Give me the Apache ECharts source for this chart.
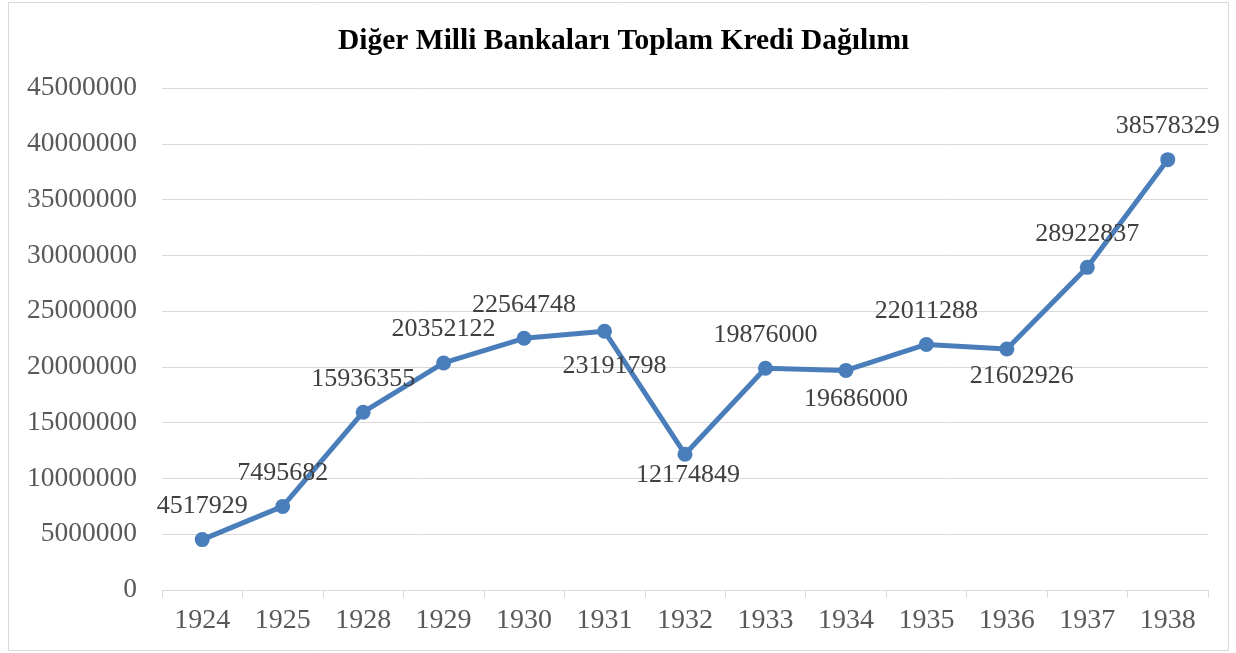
<!DOCTYPE html>
<html>
<head>
<meta charset="utf-8">
<script src="https://cdn.jsdelivr.net/npm/echarts@6/dist/echarts.min.js"></script>
<style>
  html, body { margin: 0; padding: 0; background: #fff; }
  #chart { width: 1236px; height: 653px; }
</style>
</head>
<body>
<div id="chart"></div>
<script>
const years = ['1924', '1925', '1928', '1929', '1930', '1931', '1932', '1933', '1934', '1935', '1936', '1937', '1938'];
const credits = [4517929, 7495682, 15936355, 20352122, 22564748, 23191798, 12174849, 19876000, 19686000, 22011288, 21602926, 28922837, 38578329];

// label placement per point (above unless listed)
const labelBelow = {
  '1931': { distance: 14, offset: [10, 0] },
  '1932': { distance: 0, offset: [3, 0] },
  '1934': { distance: 8, offset: [10, 0] },
  '1936': { distance: 7, offset: [15, 0] }
};

const chart = echarts.init(document.getElementById('chart'));

const seriesData = credits.map((v, i) => {
  const below = labelBelow[years[i]];
  if (!below) return v;
  return { value: v, label: { position: 'bottom', distance: below.distance, offset: below.offset } };
});

chart.setOption({
  animation: false,
  textStyle: { fontFamily: '"Liberation Serif", "Times New Roman", serif' },
  title: {
    text: 'Diğer Milli Bankaları Toplam Kredi Dağılımı',
    left: 338,
    top: 26,
    padding: 0,
    textStyle: { fontSize: 29.5, fontWeight: 'bold', color: '#000', fontFamily: '"Liberation Serif", serif' }
  },
  graphic: [{
    type: 'rect',
    shape: { x: 8.5, y: 2.5, width: 1220, height: 648 },
    style: { fill: 'none', stroke: '#d9d9d9', lineWidth: 1 },
    silent: true
  }],
  grid: { left: 162, right: 28, top: 88, bottom: 63 },
  xAxis: {
    type: 'category',
    data: years,
    boundaryGap: true,
    axisLine: { lineStyle: { color: '#d9d9d9', width: 1 } },
    axisTick: { show: true, length: 8, lineStyle: { color: '#d9d9d9' } },
    axisLabel: { color: '#595959', fontSize: 28, margin: 17 }
  },
  yAxis: {
    type: 'value',
    min: 0,
    max: 45000000,
    interval: 5000000,
    axisLine: { show: false },
    axisTick: { show: false },
    splitLine: { lineStyle: { color: '#d9d9d9', width: 1 } },
    axisLabel: { color: '#595959', fontSize: 27.5, margin: 25, formatter: v => String(v) }
  },
  series: [{
    type: 'line',
    data: seriesData,
    symbol: 'circle',
    symbolSize: 15,
    itemStyle: { color: '#4a7ebb' },
    lineStyle: { color: '#4a7ebb', width: 5 },
    label: {
      show: true,
      position: 'top',
      distance: 13,
      color: '#404040',
      fontSize: 26
    }
  }]
});
</script>
</body>
</html>
